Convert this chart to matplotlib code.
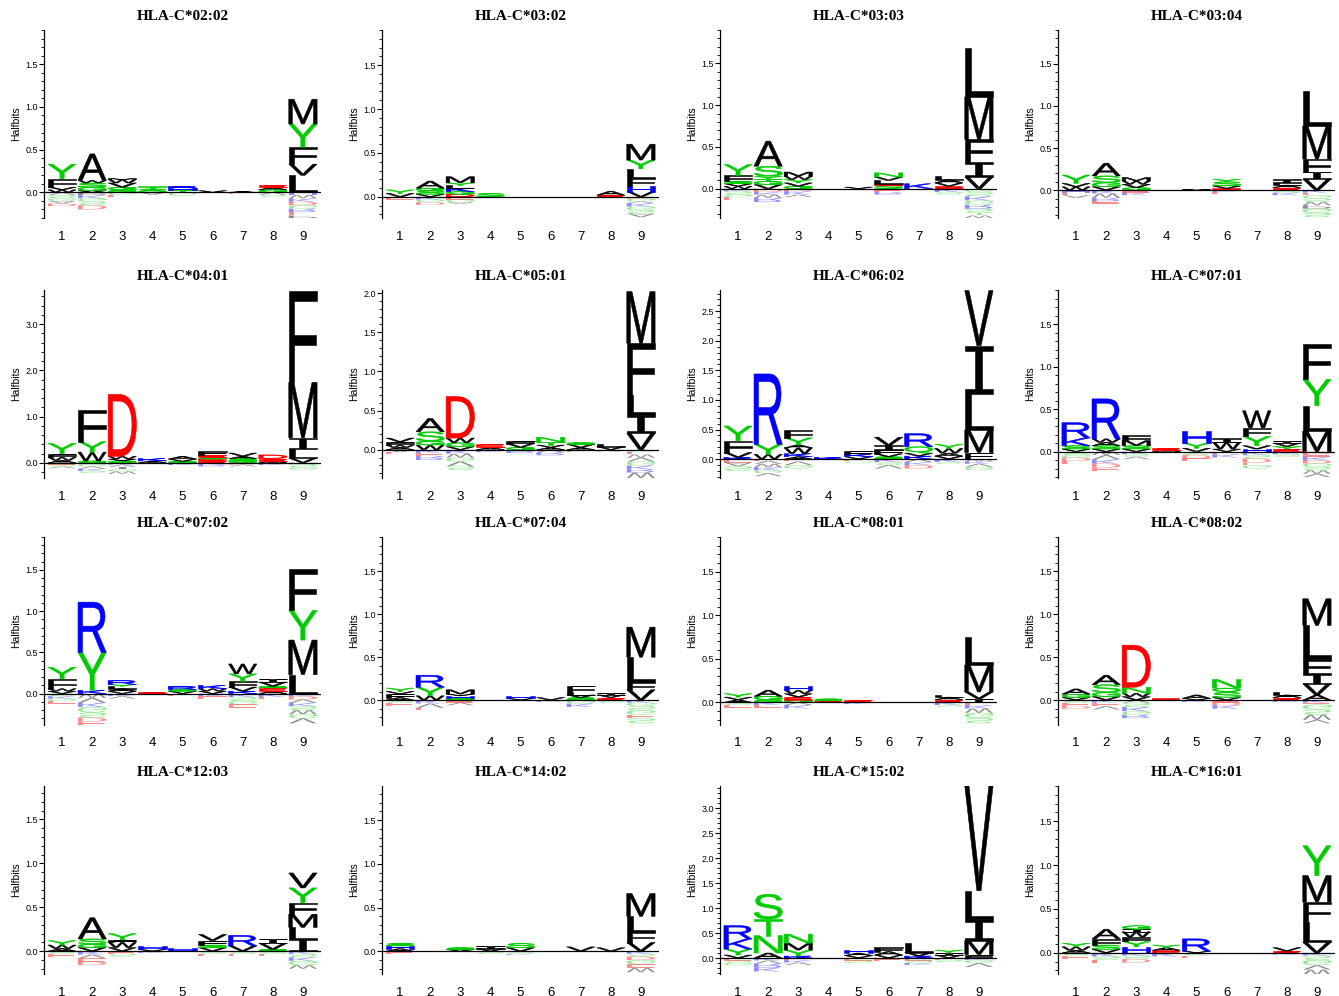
import matplotlib
matplotlib.use('Agg')
import matplotlib.pyplot as plt
from matplotlib.textpath import TextPath
from matplotlib.patches import PathPatch
from matplotlib.font_manager import FontProperties
from matplotlib.transforms import Affine2D
from matplotlib.ticker import MultipleLocator, FormatStrFormatter

plt.rcParams['font.family'] = ['Liberation Sans', 'DejaVu Sans']

# Заголовки и пределы осей для каждого аллеля
titles = ['HLA-C*02:02', 'HLA-C*03:02', 'HLA-C*03:03', 'HLA-C*03:04',
          'HLA-C*04:01', 'HLA-C*05:01', 'HLA-C*06:02', 'HLA-C*07:01',
          'HLA-C*07:02', 'HLA-C*07:04', 'HLA-C*08:01', 'HLA-C*08:02',
          'HLA-C*12:03', 'HLA-C*14:02', 'HLA-C*15:02', 'HLA-C*16:01']
ymins = [-0.30, -0.24, -0.35, -0.33,
         -0.33, -0.36, -0.32, -0.31,
         -0.38, -0.29, -0.26, -0.29,
         -0.26, -0.26, -0.32, -0.24]
ymaxs = [1.90, 1.90, 1.90, 1.90,
         3.74, 2.04, 2.86, 1.90,
         1.90, 1.90, 1.90, 1.90,
         1.88, 1.89, 3.45, 1.90]
major_steps = [0.5, 0.5, 0.5, 0.5,
               1.0, 0.5, 0.5, 0.5,
               0.5, 0.5, 0.5, 0.5,
               0.5, 0.5, 0.5, 0.5]
positions = [1, 2, 3, 4, 5, 6, 7, 8, 9]

# Положительные стеки (снизу вверх) и отрицательные (от нуля вниз), halfbits
pos_0202 = [[('W', .03), ('V', .03), ('F', .10), ('Y', .17)],
            [('V', .02), ('G', .04), ('S', .05), ('W', .03), ('A', .31)],
            [('S', .03), ('G', .03), ('V', .05), ('W', .04), ('M', .01)],
            [('S', .04), ('T', .03)],
            [('T', .03), ('H', .02), ('R', .02)],
            [('V', .02)],
            [('A', .01)],
            [('G', .03), ('A', .03), ('E', .03)],
            [('L', .20), ('V', .13), ('F', .20), ('Y', .27), ('M', .29)]]
neg_0202 = [[('V', .03), ('S', .04), ('G', .03), ('A', .03), ('D', .03)],
            [('P', .03), ('K', .04), ('G', .04), ('S', .04), ('D', .05)],
            [('G', .03), ('E', .03)],
            [('A', .03)],
            [('G', .04)],
            [],
            [('E', .02)],
            [('V', .03), ('S', .02)],
            [('H', .03), ('W', .04), ('K', .04), ('D', .04), ('G', .04), ('R', .04), ('E', .04), ('P', .04)]]

pos_0302 = [[('V', .04), ('Y', .04)],
            [('V', .03), ('S', .04), ('G', .03), ('A', .08)],
            [('D', .03), ('G', .03), ('K', .04), ('L', .03), ('Y', .03), ('M', .07)],
            [('S', .04)],
            [], [], [],
            [('E', .02), ('A', .045)],
            [('V', .06), ('H', .06), ('F', .10), ('L', .10), ('Y', .10), ('M', .18)]]
neg_0302 = [[('E', .03)],
            [('K', .03), ('G', .03), ('D', .03)],
            [('E', .03), ('G', .03), ('A', .02)],
            [], [], [],
            [('E', .01)],
            [],
            [('D', .02), ('G', .03), ('V', .02), ('K', .04), ('G', .04), ('S', .04), ('A', .04)]]

pos_0303 = [[('W', .03), ('V', .03), ('S', .03), ('F', .07), ('Y', .13)],
            [('V', .05), ('G', .04), ('T', .03), ('Y', .03), ('S', .12), ('A', .30)],
            [('G', .03), ('V', .04), ('Y', .04), ('W', .04), ('M', .05)],
            [],
            [('V', .02)],
            [('S', .04), ('E', .02), ('L', .04), ('V', .04), ('N', .05)],
            [('K', .06)],
            [('E', .03), ('V', .04), ('A', .04), ('L', .04)],
            [('V', .14), ('I', .18), ('F', .27), ('M', .51), ('L', .58)]]
neg_0303 = [[('K', .03), ('S', .04), ('G', .03), ('E', .04)],
            [('D', .04), ('K', .03), ('W', .04), ('R', .05)],
            [('D', .03), ('K', .04), ('V', .03)],
            [], [],
            [('E', .04), ('R', .03)],
            [('E', .02)],
            [('K', .04), ('S', .03)],
            [('G', .04), ('S', .05), ('K', .05), ('G', .05), ('R', .05), ('S', .05), ('T', .03), ('W', .03)]]

pos_0304 = [[('W', .04), ('V', .04), ('Y', .10)],
            [('V', .04), ('G', .05), ('S', .08), ('A', .15)],
            [('G', .03), ('V', .04), ('W', .04), ('M', .04)],
            [],
            [('V', .01)],
            [('E', .02), ('V', .03), ('S', .05), ('Y', .03)],
            [],
            [('E', .03), ('A', .03), ('L', .03), ('I', .04)],
            [('V', .13), ('I', .09), ('F', .15), ('M', .39), ('L', .42)]]
neg_0304 = [[('H', .03), ('E', .03), ('A', .03)],
            [('K', .04), ('W', .05), ('R', .04), ('E', .03)],
            [('E', .03), ('K', .03)],
            [], [],
            [('K', .02), ('E', .03)],
            [],
            [('S', .03), ('K', .03)],
            [('K', .03), ('E', .03), ('G', .04), ('S', .04), ('W', .04), ('P', .04), ('G', .05), ('S', .05)]]

pos_0401 = [[('A', .05), ('W', .07), ('F', .08), ('Y', .22)],
            [('G', .04), ('W', .19), ('Y', .23), ('F', .69)],
            [('G', .04), ('V', .04), ('W', .06), ('D', 1.34)],
            [('A', .04), ('K', .05)],
            [('G', .03), ('V', .05), ('A', .06)],
            [('E', .04), ('D', .04), ('S', .04), ('E', .05), ('F', .08)],
            [('G', .04), ('S', .05), ('A', .05), ('V', .07)],
            [('A', .04), ('E', .05), ('D', .08)],
            [('V', .10), ('L', .20), ('I', .24), ('M', 1.20), ('F', 1.98)]]
neg_0401 = [[('E', .04), ('S', .04), ('V', .04)],
            [('K', .03), ('G', .05), ('V', .05), ('K', .05), ('S', .04)],
            [('K', .04), ('V', .05), ('I', .05), ('G', .05), ('W', .05)],
            [('K', .02)],
            [('K', .05)],
            [('K', .04), ('R', .04)],
            [('D', .04), ('V', .04)],
            [('K', .05)],
            [('K', .03), ('S', .07), ('G', .05)]]

pos_0501 = [[('A', .03), ('W', .03), ('F', .04), ('V', .05)],
            [('W', .06), ('G', .05), ('S', .12), ('A', .17)],
            [('V', .04), ('G', .05), ('W', .06), ('D', .53)],
            [('A', .03), ('E', .05)],
            [('G', .03), ('V', .05), ('F', .03)],
            [('A', .03), ('V', .03), ('T', .04), ('N', .06)],
            [('A', .03), ('V', .04), ('S', .02)],
            [('V', .04), ('L', .04)],
            [('V', .21), ('I', .24), ('L', .25), ('F', .66), ('M', .66)]]
neg_0501 = [[('A', .03), ('E', .03)],
            [('K', .04), ('E', .04), ('R', .05)],
            [('K', .05), ('W', .05), ('G', .05), ('V', .06), ('S', .05)],
            [('K', .03)],
            [('R', .04)],
            [('V', .03), ('R', .04)],
            [('E', .03)],
            [('K', .02)],
            [('G', .03), ('E', .03), ('W', .04), ('V', .05), ('G', .05), ('K', .05), ('R', .04), ('W', .07)]]

pos_0602 = [[('K', .03), ('V', .08), ('F', .20), ('Y', .25)],
            [('W', .08), ('Y', .17), ('R', 1.19)],
            [('A', .04), ('K', .05), ('W', .10), ('A', .05), ('Y', .12), ('F', .13)],
            [('K', .03)],
            [('V', .04), ('K', .04), ('F', .06)],
            [('S', .04), ('V', .05), ('F', .07), ('I', .07), ('V', .14)],
            [('K', .05), ('V', .05), ('Q', .11), ('R', .22)],
            [('V', .05), ('A', .05), ('W', .08), ('Y', .07)],
            [('F', .11), ('M', .38), ('L', .61), ('I', .82), ('V', .93)]]
neg_0602 = [[('E', .06), ('A', .06), ('S', .08)],
            [('E', .03), ('V', .05), ('W', .06), ('K', .05), ('G', .05), ('V', .05)],
            [('E', .04), ('V', .06), ('G', .06)],
            [],
            [('E', .04), ('G', .03)],
            [('K', .05), ('S', .05), ('V', .06)],
            [('V', .05), ('K', .05), ('D', .06)],
            [('K', .05), ('S', .03)],
            [('W', .04), ('K', .04), ('V', .05), ('G', .06)]]

pos_0701 = [[('V', .03), ('S', .04), ('K', .09), ('R', .18)],
            [('V', .03), ('S', .04), ('A', .04), ('W', .04), ('R', .47)],
            [('V', .03), ('S', .04), ('M', .06), ('F', .06)],
            [('A', .02), ('E', .02)],
            [('V', .04), ('Y', .06), ('H', .14)],
            [('V', .03), ('W', .08), ('I', .05)],
            [('H', .03), ('V', .04), ('Y', .11), ('F', .10), ('W', .20)],
            [('E', .03), ('Y', .03), ('V', .04), ('I', .03)],
            [('M', .24), ('L', .30), ('Y', .31), ('F', .41)]]
neg_0701 = [[('S', .04), ('G', .03), ('D', .04), ('E', .04)],
            [('W', .04), ('V', .05), ('K', .05), ('D', .05), ('E', .04)],
            [('K', .03), ('S', .03), ('V', .03)],
            [],
            [('S', .04), ('D', .04), ('E', .03)],
            [('E', .03), ('K', .04)],
            [('K', .04), ('S', .04), ('D', .05), ('E', .03), ('G', .04)],
            [('K', .03), ('S', .03)],
            [('D', .03), ('E', .03), ('K', .04), ('D', .04), ('G', .04), ('S', .04), ('W', .04), ('V', .04)]]

pos_0702 = [[('V', .03), ('W', .03), ('F', .12), ('Y', .14)],
            [('K', .04), ('Y', .46), ('R', .61)],
            [('V', .03), ('A', .03), ('L', .03), ('Y', .02), ('R', .05)],
            [('E', .02)],
            [('V', .03), ('S', .02), ('R', .04)],
            [('V', .03), ('W', .03), ('K', .04)],
            [('K', .03), ('V', .05), ('F', .07), ('Y', .09), ('W', .12)],
            [('A', .03), ('E', .04), ('S', .02), ('V', .05), ('I', .04)],
            [('L', .23), ('M', .42), ('Y', .36), ('F', .50)]]
neg_0702 = [[('S', .03), ('K', .03), ('G', .03), ('E', .03)],
            [('W', .05), ('V', .06), ('K', .05), ('G', .07), ('S', .06), ('D', .05), ('E', .04)],
            [('K', .03), ('V', .03)],
            [],
            [('E', .03)],
            [('K', .03), ('E', .04)],
            [('K', .04), ('S', .05), ('G', .04), ('E', .04)],
            [('K', .04), ('E', .03)],
            [('K', .03), ('D', .04), ('V', .04), ('K', .04), ('S', .05), ('W', .05), ('G', .05), ('V', .06)]]

pos_0704 = [[('A', .03), ('F', .04), ('V', .03), ('Y', .04)],
            [('W', .05), ('Y', .10), ('R', .14)],
            [('S', .02), ('H', .03), ('V', .02), ('M', .05)],
            [],
            [('V', .02), ('H', .03)],
            [('V', .03)],
            [('S', .03), ('V', .03), ('L', .03), ('F', .08)],
            [('E', .03), ('V', .03), ('I', .02)],
            [('V', .12), ('F', .09), ('L', .29), ('M', .35)]]
neg_0704 = [[('S', .03), ('E', .04)],
            [('K', .04), ('V', .05), ('E', .03)],
            [('E', .03), ('V', .03)],
            [], [],
            [('K', .02)],
            [('G', .04), ('K', .04)],
            [('S', .03)],
            [('K', .03), ('G', .04), ('S', .05), ('G', .05), ('E', .04), ('S', .06)]]

pos_0801 = [[('A', .03), ('V', .03), ('Y', .04)],
            [('S', .03), ('G', .04), ('A', .07)],
            [('G', .03), ('E', .03), ('V', .04), ('W', .04), ('H', .05)],
            [('E', .02), ('S', .02)],
            [('E', .03)],
            [], [],
            [('E', .03), ('A', .03), ('L', .03)],
            [('I', .04), ('V', .08), ('M', .31), ('L', .32)]]
neg_0801 = [[('S', .03), ('E', .03)],
            [('K', .03), ('E', .03)],
            [('V', .03), ('K', .04)],
            [],
            [('K', .02)],
            [], [],
            [('K', .03), ('S', .02)],
            [('E', .03), ('K', .04), ('W', .05), ('G', .06), ('S', .06)]]

pos_0802 = [[('V', .03), ('G', .04), ('A', .06)],
            [('V', .04), ('G', .05), ('S', .09), ('A', .11)],
            [('V', .04), ('W', .04), ('N', .07), ('D', .49)],
            [('E', .02)],
            [('V', .02), ('A', .04)],
            [('V', .03), ('S', .06), ('Q', .05), ('N', .10)],
            [],
            [('E', .03), ('A', .03), ('L', .04)],
            [('A', .06), ('V', .13), ('I', .12), ('F', .17), ('L', .39), ('M', .31)]]
neg_0802 = [[('S', .03), ('E', .04), ('D', .03)],
            [('K', .03), ('E', .04), ('V', .04)],
            [('V', .03), ('S', .05), ('K', .05), ('G', .04), ('R', .04)],
            [],
            [('K', .02)],
            [('E', .03), ('D', .03), ('K', .04)],
            [],
            [('K', .02)],
            [('K', .03), ('E', .02), ('G', .06), ('S', .06), ('W', .06), ('V', .04)]]

pos_1203 = [[('A', .03), ('W', .04), ('Y', .05)],
            [('V', .04), ('G', .04), ('S', .06), ('A', .24)],
            [('V', .04), ('W', .06), ('F', .03), ('Y', .07)],
            [('V', .02), ('H', .04)],
            [('H', .04)],
            [('V', .04), ('S', .03), ('F', .05), ('V', .07)],
            [('V', .06), ('R', .12)],
            [('S', .02), ('V', .07), ('I', .05)],
            [('I', .14), ('L', .13), ('M', .15), ('F', .13), ('Y', .17), ('V', .17)]]
neg_1203 = [[('S', .03), ('E', .04)],
            [('K', .04), ('V', .04), ('E', .04), ('D', .04)],
            [('E', .03), ('S', .03)],
            [('K', .02)],
            [],
            [('S', .03), ('E', .03)],
            [('S', .03), ('E', .03)],
            [('S', .03), ('E', .03)],
            [('K', .03), ('S', .04), ('K', .04), ('G', .05), ('W', .04)]]

pos_1402 = [[('A', .03), ('H', .03), ('S', .03)],
            [],
            [('V', .02), ('S', .02)],
            [('V', .03), ('I', .03)],
            [('V', .04), ('S', .05)],
            [],
            [('V', .05)],
            [('V', .04)],
            [('V', .10), ('F', .12), ('L', .18), ('M', .26)]]
neg_1402 = [[('E', .03)],
            [], [],
            [('S', .03)],
            [('S', .03), ('K', .01)],
            [],
            [('E', .01)],
            [('A', .01)],
            [('K', .03), ('S', .03), ('D', .04), ('G', .05), ('E', .04), ('W', .05)]]

pos_1502 = [[('V', .06), ('Y', .12), ('K', .20), ('R', .27)],
            [('A', .10), ('N', .35), ('T', .33), ('S', .50)],
            [('K', .04), ('Y', .12), ('M', .14), ('N', .18)],
            [],
            [('V', .05), ('A', .05), ('H', .07)],
            [('V', .06), ('A', .07), ('F', .09)],
            [('K', .04), ('V', .07), ('L', .20)],
            [('V', .06), ('I', .05), ('Y', .05)],
            [('F', .07), ('M', .28), ('I', .43), ('L', .57), ('V', 2.10)]]
neg_1502 = [[('E', .05), ('S', .05), ('G', .05)],
            [('K', .05), ('V', .06), ('R', .08), ('K', .08)],
            [('E', .04), ('K', .05), ('V', .05)],
            [],
            [('E', .05), ('S', .05)],
            [('E', .06)],
            [('E', .05), ('S', .05), ('K', .04)],
            [('E', .04), ('S', .04)],
            [('K', .04), ('G', .06), ('V', .08)]]

pos_1601 = [[('A', .03), ('W', .04), ('Y', .04)],
            [('V', .04), ('S', .05), ('F', .07), ('A', .11)],
            [('H', .07), ('Y', .06), ('F', .05), ('W', .06), ('I', .03), ('G', .04)],
            [('E', .03), ('A', .03), ('Y', .03)],
            [('V', .02), ('R', .14)],
            [], [],
            [('E', .02), ('V', .04)],
            [('V', .12), ('L', .23), ('F', .23), ('M', .30), ('Y', .34)]]
neg_1601 = [[('S', .03), ('E', .04)],
            [('K', .04), ('S', .04), ('E', .04)],
            [('K', .03), ('S', .04), ('D', .04)],
            [('K', .04)],
            [('S', .03), ('E', .03)],
            [], [],
            [('K', .02)],
            [('K', .03), ('S', .05), ('G', .06), ('V', .05), ('W', .06)]]

pos_stacks = [pos_0202, pos_0302, pos_0303, pos_0304,
              pos_0401, pos_0501, pos_0602, pos_0701,
              pos_0702, pos_0704, pos_0801, pos_0802,
              pos_1203, pos_1402, pos_1502, pos_1601]
neg_stacks = [neg_0202, neg_0302, neg_0303, neg_0304,
              neg_0401, neg_0501, neg_0602, neg_0701,
              neg_0702, neg_0704, neg_0801, neg_0802,
              neg_1203, neg_1402, neg_1502, neg_1601]


def letter_color(letter):
    # Цвета по химическим свойствам аминокислот
    if letter in 'DE':
        return '#ff0000'
    if letter in 'RKH':
        return '#0000ff'
    if letter in 'STYNQGC':
        return '#00cc00'
    return '#000000'


letter_font = FontProperties(family='Liberation Sans')
# у буквы I нужны засечки, иначе при растяжении получается сплошной прямоугольник
serif_i_font = FontProperties(family='DejaVu Sans Mono')
glyphs = {}


def draw_letter(ax, letter, x, y0, h, flip=False):
    if letter not in glyphs:
        prop = serif_i_font if letter == 'I' else letter_font
        p = TextPath((0, 0), letter, size=1, prop=prop)
        glyphs[letter] = (p, p.get_extents())
    p, ext = glyphs[letter]
    w = 0.94
    t = Affine2D().translate(-ext.x0, -ext.y0).scale(w / ext.width, h / ext.height)
    if flip:
        t = t.scale(1, -1)
    t = t.translate(x - w / 2, y0)
    col = letter_color(letter)
    if flip:
        patch = PathPatch(t.transform_path(p), facecolor=col, edgecolor='none',
                          alpha=0.45, zorder=2)
    else:
        patch = PathPatch(t.transform_path(p), facecolor=col, edgecolor=col,
                          linewidth=0.4, zorder=2)
    ax.add_patch(patch)


fig = plt.figure(figsize=(13.39, 9.96), dpi=100)
W, H = 1339.0, 996.0
col_left = [44, 382, 720, 1058]
row_top = [30, 290, 537, 786]
ax_w, ax_h = 277, 188

for k in range(16):
    r, c = divmod(k, 4)
    ax = fig.add_axes([col_left[c] / W, 1 - (row_top[r] + ax_h) / H, ax_w / W, ax_h / H])
    for i, x in enumerate(positions):
        y = 0.0
        for letter, h in pos_stacks[k][i]:
            draw_letter(ax, letter, x, y, h)
            y += h
        y = 0.0
        for letter, h in neg_stacks[k][i]:
            draw_letter(ax, letter, x, y, h, flip=True)
            y -= h
    ax.axhline(0, color='black', lw=0.9, zorder=3)
    ax.set_xlim(0.4, 9.6)
    ax.set_ylim(ymins[k], ymaxs[k])
    for s in ['top', 'right', 'bottom']:
        ax.spines[s].set_visible(False)
    ax.spines['left'].set_linewidth(0.9)
    ax.set_xticks(positions)
    ax.tick_params(axis='x', length=0, pad=9, labelsize=9.5)
    ax.yaxis.set_major_locator(MultipleLocator(major_steps[k]))
    ax.yaxis.set_minor_locator(MultipleLocator(major_steps[k] / 5))
    ax.yaxis.set_major_formatter(FormatStrFormatter('%.1f'))
    ax.tick_params(axis='y', which='major', labelsize=6.5, length=3.5, width=0.8, pad=1)
    ax.tick_params(axis='y', which='minor', length=2, width=0.6)
    ax.set_ylabel('Halfbits', fontsize=7.5, labelpad=3)
    ax.set_title(titles[k], fontfamily='Liberation Serif', fontweight='bold',
                 fontsize=11, pad=7)

fig.savefig('out.png', dpi=100)
